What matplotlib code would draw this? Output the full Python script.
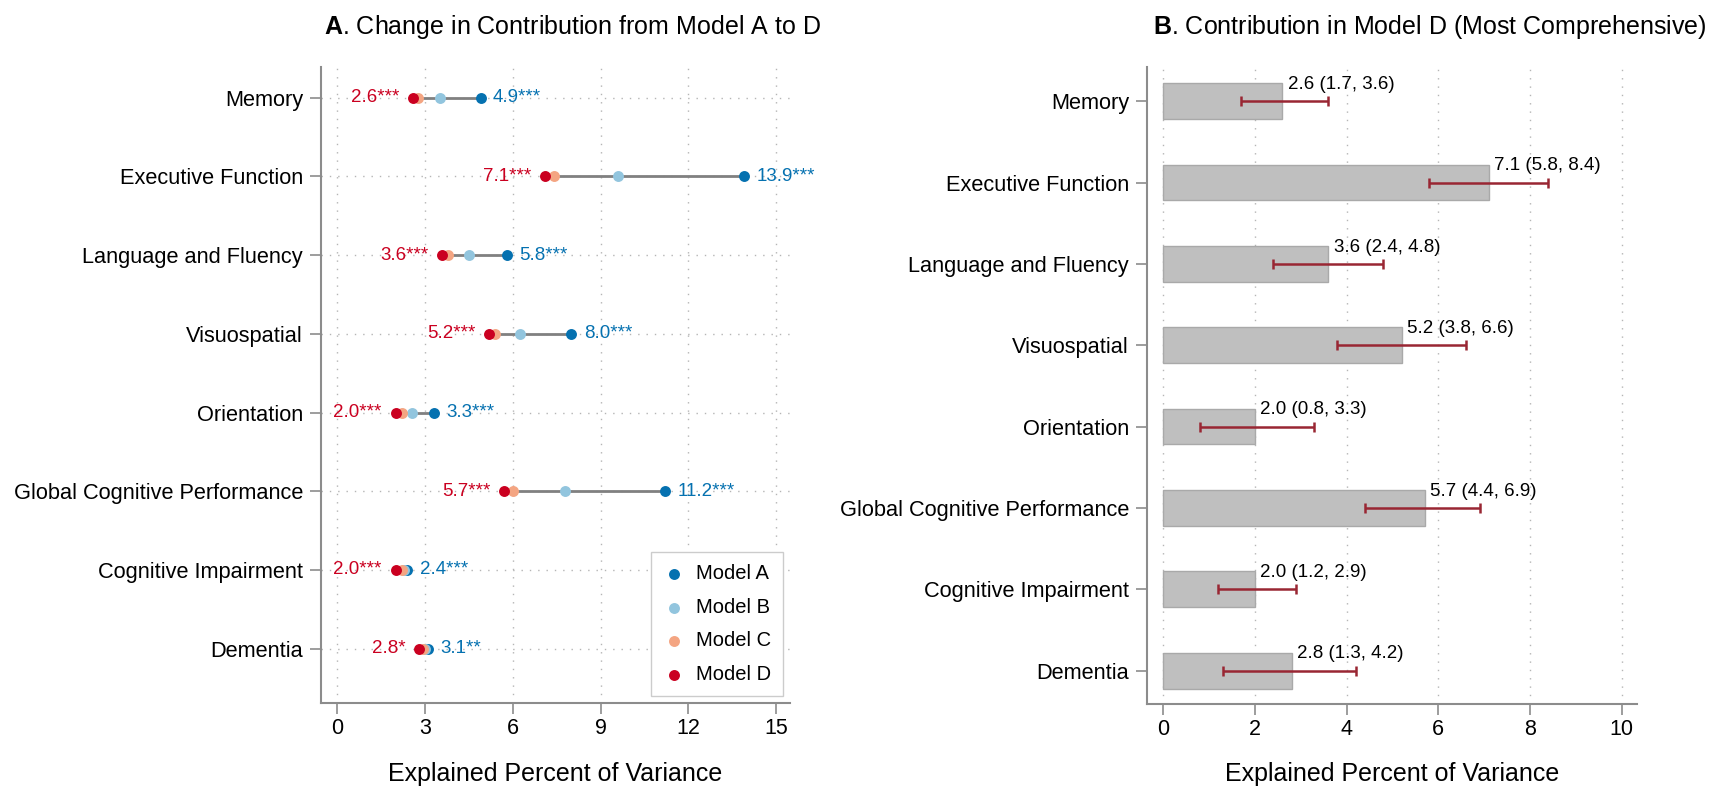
"""Decomposition of explained variance: Model A -> D change and Model D contributions."""

import matplotlib.pyplot as plt
import numpy as np

plt.rcParams["font.family"] = ["Liberation Sans", "DejaVu Sans"]
plt.rcParams["mathtext.fontset"] = "custom"
plt.rcParams["mathtext.bf"] = "Liberation Sans:bold"
plt.rcParams["mathtext.rm"] = "Liberation Sans"

OUTCOMES = [
    "Memory",
    "Executive Function",
    "Language and Fluency",
    "Visuospatial",
    "Orientation",
    "Global Cognitive Performance",
    "Cognitive Impairment",
    "Dementia",
]

# explained percent of variance per model (panel A)
MODEL_A = [4.9, 13.9, 5.8, 8.0, 3.3, 11.2, 2.4, 3.1]
MODEL_B = [3.5, 9.6, 4.5, 6.25, 2.55, 7.8, 2.3, 3.0]
MODEL_C = [2.75, 7.4, 3.8, 5.4, 2.2, 6.0, 2.2, 2.95]
MODEL_D = [2.6, 7.1, 3.6, 5.2, 2.0, 5.7, 2.0, 2.8]
STARS_A = ["***", "***", "***", "***", "***", "***", "***", "**"]
STARS_D = ["***", "***", "***", "***", "***", "***", "***", "*"]

# Model D estimate with 95% CI (panel B)
D_LOWER = [1.7, 5.8, 2.4, 3.8, 0.8, 4.4, 1.2, 1.3]
D_UPPER = [3.6, 8.4, 4.8, 6.6, 3.3, 6.9, 2.9, 4.2]

COLORS = {"A": "#0571b0", "B": "#92c5de", "C": "#f4a582", "D": "#ca0020"}
SPINE = "#8c8c8c"
GRID = "#b5b5b5"
W, H = 1709, 786


def _style(ax, xticks, xlim, ylim):
    for side in ("top", "right"):
        ax.spines[side].set_visible(False)
    for side in ("left", "bottom"):
        ax.spines[side].set_color(SPINE)
        ax.spines[side].set_linewidth(1.5)
    ax.set_xticks(xticks)
    ax.set_xlim(*xlim)
    ax.set_ylim(*ylim)
    ax.set_yticks(np.arange(len(OUTCOMES)))
    ax.set_yticklabels(OUTCOMES)
    ax.tick_params(axis="both", colors=SPINE, labelcolor="black", length=8, width=1.2)
    ax.tick_params(axis="y", labelsize=15.7, pad=5)
    ax.tick_params(axis="x", labelsize=15.5, pad=3)
    ax.set_xlabel("Explained Percent of Variance", fontsize=18, labelpad=16)
    ax.grid(axis="x", color=GRID, linestyle=(0, (1, 5)), linewidth=1)
    ax.set_axisbelow(True)


def _axes(fig, x0, x1, y0, y1):
    return fig.add_axes([x0 / W, 1 - y1 / H, (x1 - x0) / W, (y1 - y0) / H])


fig = plt.figure(figsize=(W / 100, H / 100), dpi=100)

# ---------------------------------------------------------------------------
# Panel A: dumbbell A -> D
# ---------------------------------------------------------------------------
ax = _axes(fig, 321, 790, 67, 703)
_style(ax, np.arange(0, 16, 3), (-0.55, 15.47), (7.69, -0.39))
ax.grid(axis="y", color=GRID, linestyle=(0, (1, 5)), linewidth=1)
y = np.arange(len(OUTCOMES))

ax.hlines(y, MODEL_D, MODEL_A, color="#808080", linewidth=2, zorder=2)
for name, vals in zip("ABCD", (MODEL_A, MODEL_B, MODEL_C, MODEL_D)):
    ax.scatter(vals, y, s=62, color=COLORS[name], zorder=3, label=f"Model {name}",
               linewidths=0)

for yi, a, sa, d, sd in zip(y, MODEL_A, STARS_A, MODEL_D, STARS_D):
    ax.annotate(f"{d:.1f}{sd}", xy=(d, yi), xytext=(-10, 0), textcoords="offset points",
                ha="right", va="center", fontsize=13.5, color=COLORS["D"])
    ax.annotate(f"{a:.1f}{sa}", xy=(a, yi), xytext=(9, 0), textcoords="offset points",
                ha="left", va="center", fontsize=13.5, color=COLORS["A"])

leg = ax.legend(loc="lower right", fontsize=14.5, fancybox=False, framealpha=1,
                edgecolor="#cccccc", handlelength=1.0, handletextpad=0.6,
                labelspacing=0.72, borderaxespad=0.35, borderpad=0.6)
leg.get_frame().set_linewidth(1)

fig.text(572 / W, 1 - 27 / H, r"$\mathbf{A}$. Change in Contribution from Model A to D",
         ha="center", va="center", fontsize=18)

# ---------------------------------------------------------------------------
# Panel B: Model D contributions with CI
# ---------------------------------------------------------------------------
bx = _axes(fig, 1147, 1637, 67, 704)
_style(bx, np.arange(0, 11, 2), (-0.35, 10.33), (7.41, -0.42))

bx.barh(y, MODEL_D, height=0.44, color="#bfbfbf", edgecolor="#a9a9a9", linewidth=1,
        zorder=2)
d = np.array(MODEL_D)
err = np.vstack([d - np.array(D_LOWER), np.array(D_UPPER) - d])
bx.errorbar(d, y, xerr=err, fmt="none", ecolor="#992633", elinewidth=1.8, capsize=3.5,
            capthick=1.8, zorder=3)
for yi, v, lo, hi in zip(y, MODEL_D, D_LOWER, D_UPPER):
    bx.annotate(f"{v:.1f} ({lo:.1f}, {hi:.1f})", xy=(v, yi), xytext=(4, 12),
                textcoords="offset points", ha="left", va="center", fontsize=13.5)

fig.text(1153 / W, 1 - 27 / H, r"$\mathbf{B}$. Contribution in Model D (Most Comprehensive)",
         ha="left", va="center", fontsize=18)

fig.savefig("out.png", dpi=100)
